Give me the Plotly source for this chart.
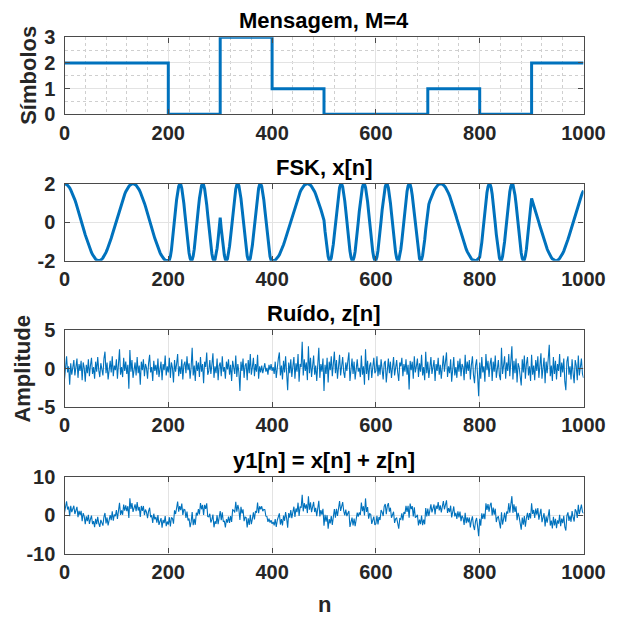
import plotly.graph_objects as go

# ---------------- data ----------------
symbols = [2, 2, 0, 3, 1, 0, 0, 1, 0, 2]
symbol_starts = [0, 100, 200, 300, 400, 500, 600, 700, 800, 900]
n_end = 1000

# FSK signal x[n], read every 2 samples (n = 0, 2, ..., 1000)
fsk_x = [
    2.00, 1.99, 1.96, 1.92, 1.86, 1.78, 1.68, 1.57, 1.45, 1.31,
    1.16, 1.00, 0.83, 0.65, 0.47, 0.28, 0.09, -0.10, -0.29, -0.47,
    -0.66, -0.83, -1.00, -1.16, -1.31, -1.45, -1.57, -1.68, -1.78, -1.86,
    -1.92, -1.96, -1.99, -2.00, -1.99, -1.96, -1.92, -1.85, -1.77, -1.68,
    -1.57, -1.44, -1.31, -1.16, -1.00, -0.83, -0.65, -0.47, -0.28, -0.09,
    0.10, 0.29, 0.48, 0.66, 0.84, 1.01, 1.16, 1.31, 1.45, 1.58,
    1.69, 1.78, 1.86, 1.92, 1.97, 1.99, 2.00, 1.99, 1.96, 1.92,
    1.85, 1.77, 1.68, 1.57, 1.44, 1.30, 1.15, 0.99, 0.82, 0.65,
    0.46, 0.28, 0.09, -0.10, -0.29, -0.48, -0.66, -0.84, -1.01, -1.17,
    -1.32, -1.45, -1.58, -1.69, -1.78, -1.86, -1.92, -1.97, -1.99, -2.00,
    -1.99,
    -1.97, -1.78, -1.45, -1.00, -0.47, 0.10, 0.66, 1.17, 1.58, 1.86,
    1.99, 1.96, 1.76, 1.42, 0.97, 0.43, -0.14, -0.70, -1.20, -1.60,
    -1.88, -2.00, -1.95, -1.75, -1.40, -0.94, -0.40, 0.17, 0.73, 1.23,
    1.62, 1.89, 2.00, 1.94, 1.73, 1.38, 0.91, 0.37, -0.20, -0.76,
    -1.25, -1.64, -1.90, -2.00, -1.94, -1.71, -1.35, -0.88, -0.33, 0.24,
    -0.33, -0.88, -1.35, -1.71, -1.94, -2.00, -1.90, -1.64, -1.25, -0.76,
    -0.20, 0.37, 0.91, 1.38, 1.73, 1.94, 2.00, 1.89, 1.62, 1.23,
    0.73, 0.17, -0.40, -0.94, -1.40, -1.75, -1.95, -2.00, -1.88, -1.60,
    -1.20, -0.70, -0.14, 0.43, 0.97, 1.42, 1.76, 1.96, 1.99, 1.86,
    1.58, 1.17, 0.66, 0.10, -0.47, -1.00, -1.45, -1.78, -1.97, -1.99,
    -2.00, -1.99, -1.97, -1.92, -1.86, -1.78, -1.69, -1.58, -1.45, -1.32,
    -1.17, -1.01, -0.84, -0.66, -0.48, -0.29, -0.10, 0.09, 0.28, 0.46,
    0.65, 0.82, 0.99, 1.15, 1.30, 1.44, 1.57, 1.68, 1.77, 1.85,
    1.92, 1.96, 1.99, 2.00, 1.99, 1.97, 1.92, 1.86, 1.78, 1.69,
    1.58, 1.45, 1.31, 1.16, 1.01, 0.84, 0.66, 0.48, 0.29, 0.10,
    -0.47, -1.00, -1.45, -1.78, -1.97, -1.99, -1.85, -1.56, -1.14, -0.63,
    -0.07, 0.50, 1.03, 1.47, 1.80, 1.97, 1.99, 1.84, 1.54, 1.11,
    0.60, 0.03, -0.54, -1.06, -1.50, -1.81, -1.98, -1.98, -1.82, -1.52,
    -1.09, -0.57, 0.00, 0.57, 1.09, 1.52, 1.82, 1.98, 1.98, 1.81,
    1.49, 1.06, 0.53, -0.04, -0.60, -1.12, -1.54, -1.84, -1.99, -1.97,
    -1.80, -1.47, -1.03, -0.50, 0.07, 0.63, 1.14, 1.56, 1.85, 1.99,
    1.97, 1.78, 1.45, 1.00, 0.47, -0.10, -0.66, -1.17, -1.58, -1.86,
    -1.99, -1.96, -1.76, -1.42, -0.97, -0.43, 0.14, 0.70, 1.20, 1.60,
    1.88, 2.00, 1.95, 1.75, 1.40, 0.94, 0.40, -0.17, -0.73, -1.23,
    -1.62, -1.89, -2.00, -1.94, -1.73, -1.38, -0.91, -0.37, 0.20, 0.76,
    0.93, 1.10, 1.25, 1.39, 1.52, 1.64, 1.74, 1.83, 1.90, 1.95,
    1.98, 2.00, 2.00, 1.98, 1.94, 1.88, 1.81, 1.72, 1.62, 1.50,
    1.37, 1.22, 1.06, 0.90, 0.72, 0.54, 0.36, 0.17, -0.02, -0.21,
    -0.40, -0.58, -0.76, -0.94, -1.10, -1.25, -1.40, -1.53, -1.64, -1.74,
    -1.83, -1.90, -1.95, -1.98, -2.00, -2.00, -1.98, -1.94, -1.88, -1.81,
    -1.49, -1.06, -0.53, 0.04, 0.60, 1.12, 1.54, 1.84, 1.99, 1.97,
    1.80, 1.47, 1.03, 0.50, -0.07, -0.63, -1.14, -1.56, -1.85, -1.99,
    -1.97, -1.78, -1.45, -1.00, -0.47, 0.10, 0.66, 1.17, 1.58, 1.86,
    1.99, 1.96, 1.76, 1.42, 0.97, 0.43, -0.14, -0.70, -1.20, -1.60,
    -1.88, -2.00, -1.95, -1.75, -1.40, -0.94, -0.40, 0.17, 0.73, 1.23,
    1.07, 0.90, 0.73, 0.55, 0.36, 0.18, -0.01, -0.20, -0.39, -0.58,
    -0.76, -0.93, -1.09, -1.25, -1.39, -1.52, -1.64, -1.74, -1.83, -1.90,
    -1.95, -1.98, -2.00, -2.00, -1.98, -1.94, -1.88, -1.81, -1.72, -1.62,
    -1.50, -1.37, -1.22, -1.07, -0.90, -0.73, -0.55, -0.36, -0.17, 0.02,
    0.21, 0.40, 0.58, 0.76, 0.93, 1.10, 1.25, 1.39, 1.52, 1.64,
]

# noise z[n], read every 2 samples (n = 0, 2, ..., 1000)
noise_z = [
    -1.4, 0.9, 1.6, -0.5, 0.3, -2.1, 0.7, -0.8, 0.4, 1.1,
    -0.9, 0.2, 1.3, -1.2, 0.6, -0.3, 1.0, -1.5, 0.8, 0.1,
    -1.7, 0.5, -0.6, 1.2, -1.0, 0.4, 1.4, -0.7, 0.2, -1.3,
    0.9, -0.4, 1.5, -0.2, -1.1, 0.7, 0.1, -0.9, 1.3, 2.2,
    -0.6, 0.8, -1.4, 0.3, 1.0, -0.5, 1.6, -1.0, 0.4, -0.2,
    1.2, -1.3, 0.6, 2.5, -0.8, 0.2, -1.1, 1.4, -0.3, 0.9,
    -0.7, 0.5, -2.6, 2.4, -0.4, 1.1, -1.2, 0.3, 0.8, -0.9,
    1.5, -0.6, 0.4, -2.1, 0.9, -0.2, 1.2, -1.0, 0.6, 0.1,
    -1.3, 0.7, 1.8, -0.5, 0.2, -1.6, 1.0, -0.3, 0.5, -0.8,
    1.3, -1.1, 0.4, 0.9, -1.5, 0.6, -0.2, 1.7, -0.9, 0.3,
    -0.5, 1.4, -1.2, 0.8, 0.1, -1.8, 1.1, -0.4, 0.6, 1.9,
    -1.0, 0.3, -0.7, 1.2, -1.4, 0.5, 0.9, -0.6, 1.6, -0.2,
    0.7, -1.3, 0.2, 2.7, -0.9, 0.4, -1.6, 1.0, -0.3, 0.8,
    -1.1, 1.5, -0.4, 0.6, -1.9, 0.9, 0.2, 2.1, -0.8, -0.3,
    1.1, -0.7, 0.5, 2.0, -1.2, 0.3, -0.6, 1.3, -1.5, 0.4,
    0.8, -1.0, 1.6, -0.4, 0.2, -1.3, 0.9, -0.1, 1.2, -0.8,
    0.5, -1.6, 1.0, 0.3, -0.7, 1.7, -1.1, 0.6, -0.5, -2.9,
    0.9, -0.3, 1.3, -1.2, 0.4, 0.7, -1.5, 1.1, -0.6, 1.9,
    -0.8, 0.2, 1.4, -1.0, 0.6, -0.4, 1.8, -1.3, 0.3, -0.5,
    0.4, -0.6, 0.3, 0.7, -0.4, 0.1, -0.8, 0.5, -0.2, 0.6,
    -0.3, 0.2, -0.7, 0.9, -1.2, 0.5, 1.3, 2.1, -0.9, 0.4,
    -1.4, 1.0, -0.5, 1.6, -0.2, -2.8, 0.8, -0.6, 1.2, -1.1,
    0.3, 1.5, -1.3, 0.7, -0.4, 1.9, -1.7, 0.6, 0.2, 3.5,
    -0.9, 1.2, -0.3, 0.8, -1.5, 2.9, -0.6, 1.4, -1.1, 0.5,
    1.7, -0.8, 0.4, -1.6, 1.1, 2.7, -1.2, 0.6, -0.4, 1.3,
    -2.9, 0.5, -0.7, 1.4, -1.8, 0.9, -0.2, 1.6, -1.0, 0.3,
    2.2, -0.6, 1.1, -1.3, 0.4, 1.8, -0.9, 0.2, 1.5, -0.5,
    -1.2, 0.8, -0.3, 1.0, 2.1, -1.6, 0.5, 1.3, -0.7, 0.9,
    -1.4, 0.6, 1.2, -0.4, 0.1, -1.1, 1.7, -0.8, 0.3, -2.1,
    2.5, -0.7, 1.0, -1.5, 0.4, 0.8, -1.2, 0.2, 1.4, -0.6,
    -0.3, 1.6, -1.0, 0.5, -0.8, 1.2, 0.1, -1.4, 0.7, 1.0,
    -1.8, 0.4, 1.3, -0.6, 0.9, -1.2, 0.2, 1.5, -0.9, 0.6,
    1.1, -0.5, -1.6, 0.8, 0.3, 1.4, -1.0, 0.6, -0.4, 1.2,
    -0.8, 0.5, -2.7, 1.0, -0.2, 0.9, -1.3, 1.6, -0.5, 0.3,
    1.3, -1.1, 0.7, -0.4, 1.8, -0.9, 0.2, -1.5, 2.2, -0.6,
    0.9, -1.2, 0.4, 1.5, -0.7, 0.1, 1.1, -1.6, 0.6, -0.3,
    1.4, -0.8, 0.5, -1.3, 1.0, 1.7, -0.4, 0.8, 2.1, -1.1,
    0.3, -0.6, 1.2, -1.7, 0.7, 1.5, -0.9, 0.2, -1.2, 1.0,
    -0.4, 1.3, -1.0, 0.6, 0.2, -1.5, 1.8, -0.7, 0.9, -0.3,
    1.1, -1.4, 0.5, 1.6, -0.8, -1.9, 0.4, 1.2, -1.0, -3.6,
    0.8, -1.3, 1.5, -0.5, 0.3, -1.7, 1.9, -0.2, 1.0, -1.1,
    0.6, 1.4, -1.6, 0.9, -0.4, 1.7, -1.2, 0.5, 1.1, -0.9,
    -1.5, 2.7, -0.7, 0.4, 1.6, -1.3, 0.8, -0.3, 1.9, -1.0,
    0.5, 2.9, -1.4, 1.0, -0.6, 1.3, -1.8, 0.7, 0.2, -1.1,
    -2.2, 1.2, -0.5, 1.7, -1.3, 0.6, 1.5, -0.9, 0.3, -1.6,
    1.8, -0.8, 0.4, -1.5, 1.1, -0.3, 1.6, -1.2, 0.7, 2.0,
    -1.3, 0.5, 1.4, -1.9, 0.9, -0.6, 1.2, 3.1, -1.0, 0.4,
    -1.6, 1.5, -0.7, 1.0, -1.4, 0.6, -0.3, 1.9, -1.1, 0.8,
    -0.5, 1.3, -1.7, -2.8, 0.9, 1.6, -0.8, 0.3, -1.4, 1.2,
    -0.6, -1.9, 1.1, 0.4, -1.5, 1.7, -0.9, 0.6, 1.3, -0.7,
    -1.2,
]

x_ticks = [0, 200, 400, 600, 800, 1000]
titles = ["Mensagem, M=4", "FSK, x[n]", "Ruído, z[n]", "y1[n] = x[n] + z[n]"]
y_ranges = [[0, 3], [-2, 2], [-5, 5], [-10, 10]]
y_ticks = [[0, 1, 2, 3], [-2, 0, 2], [-5, 0, 5], [-10, 0, 10]]

# ---------------- derived series ----------------
n_samples = list(range(0, 2 * len(fsk_x), 2))
y1 = [a + b for a, b in zip(fsk_x, noise_z)]
stair_x = symbol_starts + [n_end]
stair_y = symbols + [symbols[-1]]

# ---------------- styling ----------------
BLUE = "#0072BD"
AX = "#4a4a4a"
GRID = "#e3e3e3"
FONT = "Liberation Sans, Arial, sans-serif"
OFF = 8  # page body margin
W, H = 618 - OFF, 617 - OFF
X_DOM = [(64.5 - OFF) / W, (583.5 - OFF) / W]
tops = [37.3 - OFF, 183.7 - OFF, 330.1 - OFF, 476.5 - OFF]
PH = 77.0

fig = go.Figure()
fig.add_trace(go.Scatter(x=stair_x, y=stair_y, mode="lines", line=dict(color=BLUE, width=3, shape="hv"),
                         xaxis="x", yaxis="y", showlegend=False))
fig.add_trace(go.Scatter(x=n_samples, y=fsk_x, mode="lines", line=dict(color=BLUE, width=3),
                         xaxis="x2", yaxis="y2", showlegend=False))
fig.add_trace(go.Scatter(x=n_samples, y=noise_z, mode="lines", line=dict(color=BLUE, width=1.1),
                         xaxis="x3", yaxis="y3", showlegend=False))
fig.add_trace(go.Scatter(x=n_samples, y=y1, mode="lines", line=dict(color=BLUE, width=1.1),
                         xaxis="x4", yaxis="y4", showlegend=False))

tickfont = dict(family=FONT, size=20, color="#262626", weight="bold")
layout = dict(width=W, height=H, margin=dict(l=0, r=0, t=0, b=0, autoexpand=False),
              paper_bgcolor="white", plot_bgcolor="white", showlegend=False)
annotations = []
for i in range(4):
    top = tops[i]
    bot = top + PH
    ydom = [(H - bot) / H, (H - top) / H]
    sx = "" if i == 0 else str(i + 1)
    xa = dict(domain=X_DOM, range=[0, n_end], tickvals=x_ticks,
              ticktext=[str(v) for v in x_ticks], anchor="y" + sx, automargin=False,
              showline=True, mirror="ticks", linecolor=AX, linewidth=1.4,
              ticks="inside", ticklen=5, tickwidth=1.2, tickcolor=AX,
              showgrid=True, gridcolor=GRID, gridwidth=1, zeroline=False,
              tickfont=tickfont, ticklabelstandoff=0)
    ya = dict(domain=ydom, range=y_ranges[i], tickvals=y_ticks[i],
              ticktext=[str(v) for v in y_ticks[i]], anchor="x" + sx, automargin=False,
              showline=True, mirror="ticks", linecolor=AX, linewidth=1.4,
              ticks="inside", ticklen=5, tickwidth=1.2, tickcolor=AX,
              showgrid=True, gridcolor=GRID, gridwidth=1, zeroline=False,
              tickfont=tickfont, ticklabelstandoff=4)
    if i == 0:
        xa["minor"] = dict(dtick=40, tick0=0, showgrid=True, gridcolor="#cfcfcf",
                           griddash="dot", gridwidth=1, ticks="")
        ya["minor"] = dict(dtick=0.5, tick0=0, showgrid=True, gridcolor="#cfcfcf",
                           griddash="dot", gridwidth=1, ticks="")
    layout["xaxis" + sx] = xa
    layout["yaxis" + sx] = ya
    annotations.append(dict(text=titles[i], xref="paper", yref="paper",
                            x=(X_DOM[0] + X_DOM[1]) / 2, y=ydom[1], xanchor="center",
                            yanchor="bottom", yshift=2, showarrow=False,
                            font=dict(family=FONT, size=22, color="black", weight="bold")))

annotations.append(dict(text="Símbolos", xref="paper", yref="paper", x=(29 - OFF) / W,
                        y=(H - (tops[0] + PH / 2)) / H, textangle=-90, showarrow=False,
                        xanchor="center", yanchor="middle",
                        font=dict(family=FONT, size=22, color="#262626", weight="bold")))
annotations.append(dict(text="Amplitude", xref="paper", yref="paper", x=(23 - OFF) / W,
                        y=(H - (tops[2] + PH / 2)) / H, textangle=-90, showarrow=False,
                        xanchor="center", yanchor="middle",
                        font=dict(family=FONT, size=22, color="#262626", weight="bold")))
annotations.append(dict(text="n", xref="paper", yref="paper", x=(X_DOM[0] + X_DOM[1]) / 2,
                        y=(H - (604 - OFF)) / H, showarrow=False, xanchor="center", yanchor="middle",
                        font=dict(family=FONT, size=22, color="#262626", weight="bold")))
layout["annotations"] = annotations
fig.update_layout(**layout)
fig.write_html("out.html")
